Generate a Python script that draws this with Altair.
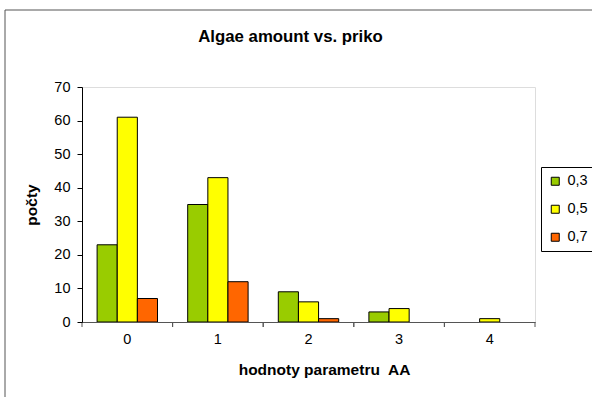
import altair as alt
import pandas as pd

categories = ["0", "1", "2", "3", "4"]
series = ["0,3", "0,5", "0,7"]
values_03 = [23, 35, 9, 3, 0]
values_05 = [61, 43, 6, 4, 1]
values_07 = [7, 12, 1, 0, 0]
colors = ["#99CC00", "#FFFF00", "#FF6600"]

rows = []
for s, vals in zip(series, [values_03, values_05, values_07]):
    for c, v in zip(categories, vals):
        rows.append({"cat": c, "series": s, "value": v})
df = pd.DataFrame(rows)
cat_df = pd.DataFrame({"cat": categories})

FONT = "Liberation Sans"

xscale = alt.Scale(domain=categories, paddingInner=0, paddingOuter=0)

bars = alt.Chart(df).transform_filter("datum.value > 0").mark_bar(
    stroke="black", strokeWidth=1).encode(
    x=alt.X("cat:N", scale=xscale, sort=categories,
            axis=alt.Axis(title="hodnoty parametru\u00a0 AA", labelAngle=0, ticks=False,
                          domainColor="#555555", labelFontSize=14.5, labelColor="black",
                          labelPadding=10, titleFontSize=15.5, titleFontWeight="bold",
                          titleX=242, titleY=40, titleAlign="center", titleBaseline="top",
                          titleColor="black",
                          labelFont=FONT, titleFont=FONT, zindex=1)),
    xOffset=alt.XOffset("series:N", sort=series,
                        scale=alt.Scale(domain=series, paddingInner=0, paddingOuter=0.75)),
    y=alt.Y("value:Q", scale=alt.Scale(domain=[0, 70]),
            axis=alt.Axis(title="počty", values=list(range(0, 71, 10)), grid=False,
                          domainColor="black", tickColor="black", tickSize=5,
                          labelFontSize=14.5, labelColor="black", labelPadding=7,
                          titleFontSize=15.5, titleFontWeight="bold", titlePadding=14,
                          titleColor="black",
                          labelFont=FONT, titleFont=FONT, zindex=1)),
    color=alt.Color("series:N", sort=series, scale=alt.Scale(domain=series, range=colors),
                    legend=alt.Legend(title=None, orient="none", legendX=459, legendY=80,
                                      symbolType="square", symbolSize=64,
                                      symbolStrokeColor="black", symbolStrokeWidth=1,
                                      labelFontSize=14.5, labelFont=FONT, labelColor="black",
                                      labelOffset=5,
                                      strokeColor="black", padding=7, rowPadding=13,
                                      fillColor="white", labelLimit=100)),
)

ticks0 = alt.Chart(cat_df).mark_rule(color="#555555").encode(
    x=alt.X("cat:N", bandPosition=0, scale=xscale, sort=categories),
    y=alt.value(235), y2=alt.value(240))
ticks1 = alt.Chart(cat_df).mark_rule(color="#555555").encode(
    x=alt.X("cat:N", bandPosition=1, scale=xscale, sort=categories),
    y=alt.value(235), y2=alt.value(240))

frame = alt.Chart(alt.Data(values=[{}])).mark_rect(
    filled=False, stroke="#555555", strokeWidth=1, clip=False).encode(
    x=alt.value(-77), y=alt.value(-77), x2=alt.value(530), y2=alt.value(330))

chart = alt.layer(frame, bars, ticks0, ticks1).properties(
    width=453, height=235,
    title=alt.TitleParams("Algae amount vs. priko", fontSize=16.8, font=FONT,
                          fontWeight="bold", dx=-18, offset=-36, color="black"),
    autosize=alt.AutoSizeParams(type="none"),
    padding={"left": 82, "top": 87, "right": 57, "bottom": 75},
).configure_view(stroke=None).configure(background="white")

chart.save("out.html", embed_options={"renderer": "svg", "actions": False})
